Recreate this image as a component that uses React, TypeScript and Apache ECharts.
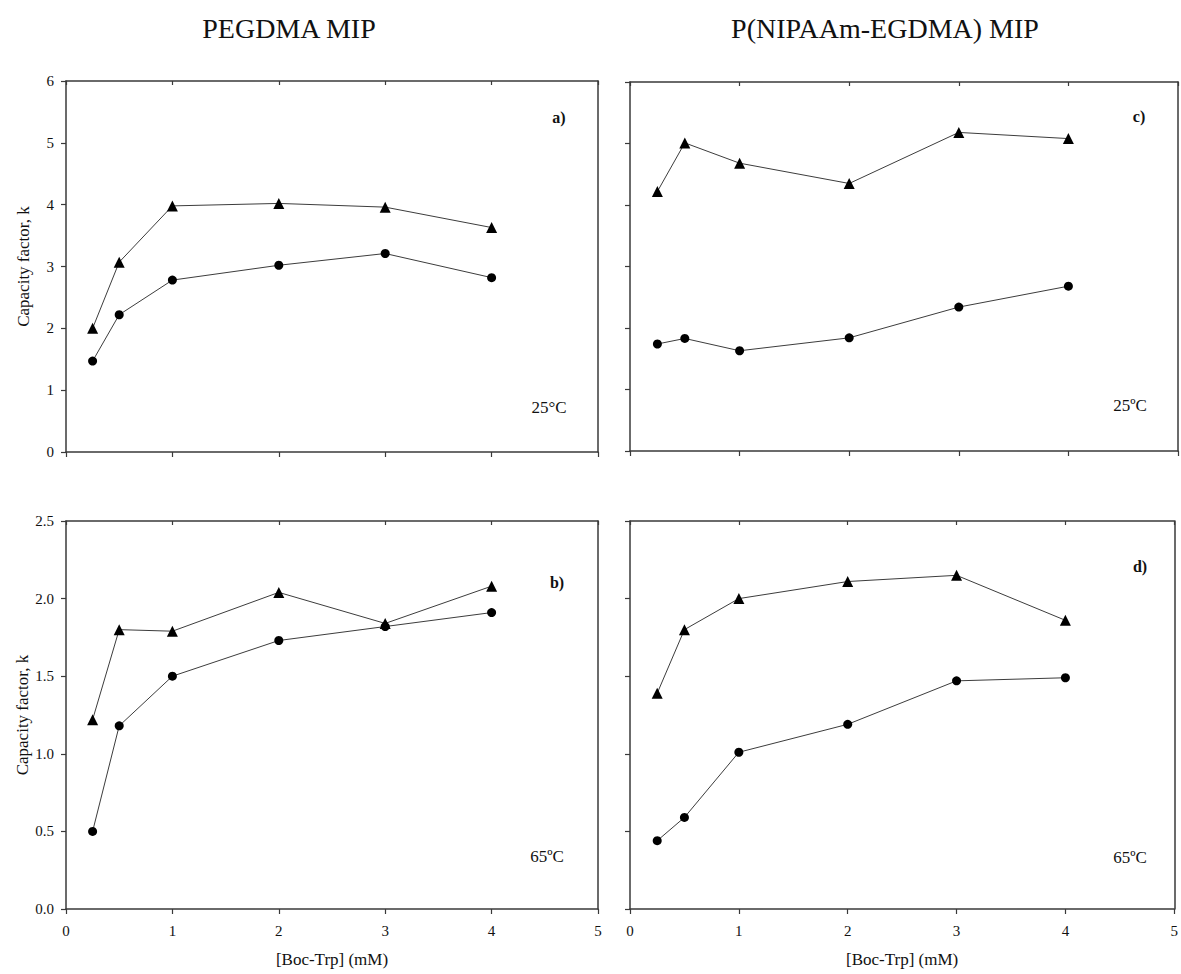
import React, { useEffect, useRef } from "react";
import * as echarts from "echarts";

const xConc = [0.25, 0.5, 1, 2, 3, 4];
const xTicks = ["0", "1", "2", "3", "4", "5"];

// a) PEGDMA MIP 25 °C
const aTriangle = [2.0, 3.07, 3.98, 4.02, 3.96, 3.63];
const aCircle = [1.47, 2.22, 2.78, 3.02, 3.21, 2.82];
// b) PEGDMA MIP 65 °C
const bTriangle = [1.22, 1.8, 1.79, 2.04, 1.84, 2.08];
const bCircle = [0.5, 1.18, 1.5, 1.73, 1.82, 1.91];
// c) P(NIPAAm-EGDMA) MIP 25 °C
const cTriangle = [4.22, 5.01, 4.68, 4.35, 5.18, 5.08];
const cCircle = [1.74, 1.83, 1.63, 1.84, 2.34, 2.68];
// d) P(NIPAAm-EGDMA) MIP 65 °C
const dTriangle = [1.39, 1.8, 2.0, 2.11, 2.15, 1.86];
const dCircle = [0.44, 0.59, 1.01, 1.19, 1.47, 1.49];

const titles = ["PEGDMA MIP", "P(NIPAAm-EGDMA) MIP"];
const yName = "Capacity factor, k";
const xName = "[Boc-Trp] (mM)";

const FONT = "'Liberation Serif', 'Times New Roman', serif";
const AX = "#3a3a3a";

export default function App() {
  const ref = useRef<HTMLDivElement>(null);
  useEffect(() => {
    if (!ref.current) return;
    const chart = echarts.init(ref.current, undefined, { renderer: "svg" });

    const grids = [
      { left: 66, top: 81, width: 532, height: 371 },
      { left: 66, top: 521, width: 532, height: 388 },
      { left: 630, top: 82, width: 548, height: 369 },
      { left: 630, top: 521, width: 548, height: 388 },
    ];
    const isBottom = [false, true, false, true];
    const isLeft = [true, true, false, false];
    const yMax = [6, 2.5, 6, 2.5];
    const yInt = [1, 0.5, 1, 0.5];
    const yDec = [0, 1, 0, 1];

    const xAxis: any[] = [];
    const yAxis: any[] = [];
    grids.forEach((g, i) => {
      xAxis.push({
        type: "value",
        gridIndex: i,
        position: "bottom",
        min: 0,
        max: 5,
        interval: 1,
        axisLine: { show: true, onZero: false, lineStyle: { color: AX, width: 1.5 } },
        axisTick: { show: true, length: 5, lineStyle: { color: AX, width: 1.2 } },
        axisLabel: {
          show: isBottom[i],
          margin: 14,
          fontFamily: FONT,
          fontSize: 15,
          color: "#111",
          formatter: (v: number) => xTicks[Math.round(v)],
        },
        splitLine: { show: false },
        name: isBottom[i] ? xName : "",
        nameLocation: "middle",
        nameGap: 42,
        nameTextStyle: { fontFamily: FONT, fontSize: 17, color: "#111" },
      });
      xAxis.push({
        type: "value",
        gridIndex: i,
        position: "top",
        min: 0,
        max: 5,
        interval: 1,
        axisLine: { show: true, onZero: false, lineStyle: { color: AX, width: 1.5 } },
        axisTick: { show: true, inside: true, length: 4, lineStyle: { color: AX, width: 1.2 } },
        axisLabel: { show: false },
        splitLine: { show: false },
      });
      yAxis.push({
        type: "value",
        gridIndex: i,
        position: "left",
        min: 0,
        max: yMax[i],
        interval: yInt[i],
        axisLine: { show: true, onZero: false, lineStyle: { color: AX, width: 1.5 } },
        axisTick: { show: true, length: 5, lineStyle: { color: AX, width: 1.2 } },
        axisLabel: {
          show: isLeft[i],
          margin: 12,
          fontFamily: FONT,
          fontSize: 15,
          color: "#111",
          formatter: (v: number) => v.toFixed(yDec[i]),
        },
        splitLine: { show: false },
        name: isLeft[i] ? yName : "",
        nameLocation: "middle",
        nameGap: 34,
        nameTextStyle: { fontFamily: FONT, fontSize: 17, color: "#111" },
      });
      yAxis.push({
        type: "value",
        gridIndex: i,
        position: "right",
        min: 0,
        max: yMax[i],
        interval: yInt[i],
        axisLine: { show: true, onZero: false, lineStyle: { color: AX, width: 1.5 } },
        axisTick: { show: false },
        axisLabel: { show: false },
        splitLine: { show: false },
      });
    });

    const pairs = (ys: number[]) => xConc.map((x, k) => [x, ys[k]]);
    const sets = [
      [aTriangle, aCircle],
      [bTriangle, bCircle],
      [cTriangle, cCircle],
      [dTriangle, dCircle],
    ];
    const series: any[] = [];
    sets.forEach(([tri, cir], i) => {
      series.push({
        type: "line",
        xAxisIndex: i * 2,
        yAxisIndex: i * 2,
        data: pairs(tri),
        symbol: "triangle",
        symbolSize: 11,
        lineStyle: { color: "#3c3c3c", width: 1 },
        itemStyle: { color: "#000" },
      });
      series.push({
        type: "line",
        xAxisIndex: i * 2,
        yAxisIndex: i * 2,
        data: pairs(cir),
        symbol: "circle",
        symbolSize: 9,
        lineStyle: { color: "#3c3c3c", width: 1 },
        itemStyle: { color: "#000" },
      });
    });

    const txt = (x: number, y: number, text: string, size: number, bold = false) => ({
      type: "text",
      x,
      y,
      style: {
        text,
        fontFamily: FONT,
        fontSize: size,
        fontWeight: bold ? "bold" : "normal",
        fill: "#111",
        align: "center",
        verticalAlign: "middle",
      },
    });

    chart.setOption({
      animation: false,
      backgroundColor: "#fff",
      grid: grids,
      xAxis,
      yAxis,
      series,
      graphic: [
        txt(289, 28, titles[0], 28),
        txt(885, 28, titles[1], 28),
        txt(559, 117, "a)", 16, true),
        txt(549, 407, "25°C", 17),
        txt(1139, 116, "c)", 16, true),
        txt(1130, 405, "25ºC", 17),
        txt(557, 582, "b)", 16, true),
        txt(547, 856, "65ºC", 17),
        txt(1140, 566, "d)", 16, true),
        txt(1130, 857, "65ºC", 17),
      ],
    });
    return () => chart.dispose();
  }, []);
  return (
    <div
      ref={ref}
      style={{ position: "absolute", left: 0, top: 0, width: 1181, height: 974 }}
    />
  );
}
